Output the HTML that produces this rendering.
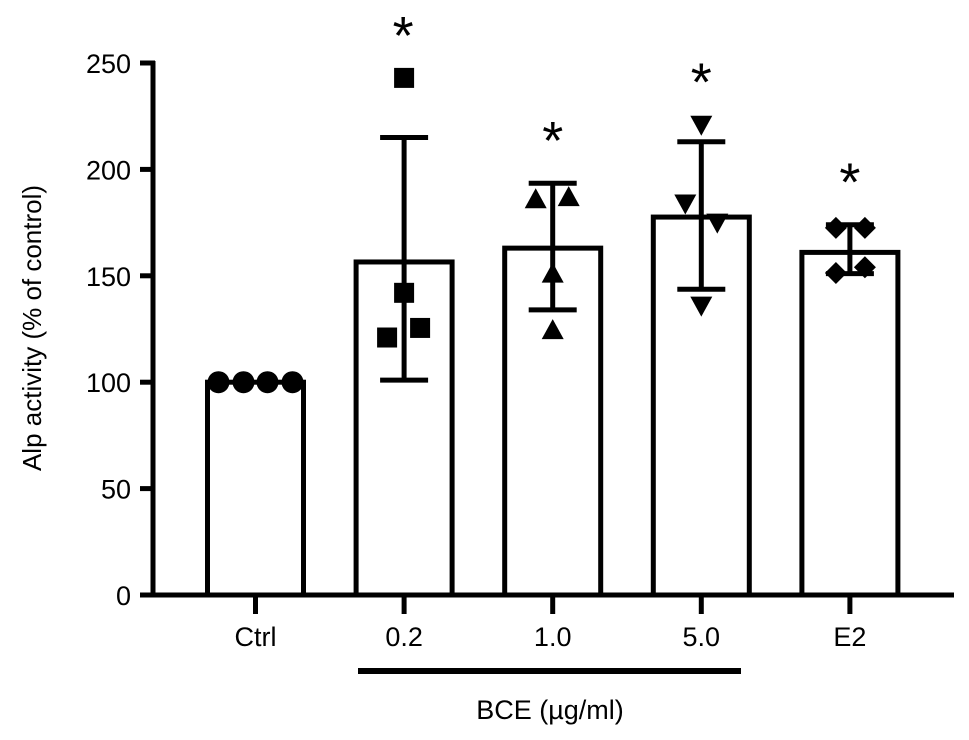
<!DOCTYPE html>
<html><head><meta charset="utf-8"><style>
body{margin:0;background:#fff;}
svg text{font-family:"Liberation Sans",Arial,sans-serif;fill:#000;}
</style></head><body>
<svg id="chart" width="969" height="735" viewBox="0 0 969 735" xmlns="http://www.w3.org/2000/svg"></svg>
<script>
const categories=["Ctrl","0.2","1.0","5.0","E2"];
const means=[100,156.5,163,177.6,161];
const errHigh=[100,215,193.5,213,174];
const errLow=[100,101,134,143.7,151];
const pointsCtrl=[100,100,100,100];
const points02=[243,142,121,125.5];
const points10=[186,187,151,124.5];
const points50=[221,184,175,136];
const pointsE2=[172.5,172.5,151.3,154];
const yTicks=[0,50,100,150,200,250];
const sig=[false,true,true,true,true];

const S="http://www.w3.org/2000/svg";
const svg=document.getElementById('chart');
function y(v){return 595-v*2.128;}
function x(i){return 255.5+i*148.6;}
function el(t,a,p){const e=document.createElementNS(S,t);for(const k in a)e.setAttribute(k,a[k]);(p||svg).appendChild(e);return e;}
const LW=5;
let ax=el('line',{x1:153,y1:y(250)-2,x2:153,y2:597,stroke:'#000','stroke-width':LW});


yTicks.forEach(v=>{
 let t=el('line',{x1:140,y1:y(v),x2:155,y2:y(v),stroke:'#000','stroke-width':LW});
 
 
 let l=el('text',{x:131,y:y(v)+10,'font-size':27,'text-anchor':'end'});l.textContent=v;
 
 
});
let yt=el('text',{x:0,y:0,'font-size':26,'text-anchor':'middle',transform:'translate(41,328) rotate(-90)'});
yt.textContent='Alp activity (% of control)';


const bw=96;
categories.forEach((c,i)=>{
 let r=el('rect',{x:x(i)-bw/2,y:y(means[i]),width:bw,height:y(0)-y(means[i]),fill:'#fff',stroke:'#000','stroke-width':LW});
 
 
});
let xa=el('line',{x1:142,y1:595,x2:954,y2:595,stroke:'#000','stroke-width':LW});


categories.forEach((c,i)=>{
 let t=el('line',{x1:x(i),y1:595,x2:x(i),y2:614,stroke:'#000','stroke-width':LW});
 
 
 let l=el('text',{x:x(i),y:646,'font-size':27,'text-anchor':'middle'});l.textContent=c;
 
 
});
categories.forEach((c,i)=>{
 if(errHigh[i]===errLow[i])return;
 let g=el('g',{stroke:'#000','stroke-width':LW});
 
 
 el('line',{x1:x(i),y1:y(errHigh[i]),x2:x(i),y2:y(errLow[i])},g);
 el('line',{x1:x(i)-24,y1:y(errHigh[i]),x2:x(i)+24,y2:y(errHigh[i])},g);
 el('line',{x1:x(i)-24,y1:y(errLow[i]),x2:x(i)+24,y2:y(errLow[i])},g);
});
const off4=[-37,-12,12,37];
pointsCtrl.forEach((v,k)=>{let p=el('circle',{cx:x(0)+off4[k],cy:y(v),r:11,fill:'#000'});
 });
const off02=[0,0,-17,16];
points02.forEach((v,k)=>{let p=el('rect',{x:x(1)+off02[k]-10,y:y(v)-10,width:20,height:20,fill:'#000'});
 });
const off10=[-17,16,0,0];
points10.forEach((v,k)=>{const cx=x(2)+off10[k],cy=y(v);
 let p=el('polygon',{points:`${cx-11},${cy+9} ${cx+11},${cy+9} ${cx},${cy-11}`,fill:'#000'});
 });
const off50=[0,-16,16,0];
points50.forEach((v,k)=>{const cx=x(3)+off50[k],cy=y(v);
 let p=el('polygon',{points:`${cx-11},${cy-9} ${cx+11},${cy-9} ${cx},${cy+11}`,fill:'#000'});
 });
const offE2=[-14,15,-14,15];
pointsE2.forEach((v,k)=>{const cx=x(4)+offE2[k],cy=y(v);
 let p=el('polygon',{points:`${cx-11},${cy} ${cx},${cy-11} ${cx+11},${cy} ${cx},${cy+11}`,fill:'#000'});
 });
categories.forEach((c,i)=>{
 if(!sig[i])return;
 const all=[[],points02,points10,points50,pointsE2][i];
 const top=Math.max(errHigh[i],...all);
 let a=el('text',{x:x(i)+(i==1?-1:0),y:y(top)-24,'font-size':54,'text-anchor':'middle'});a.textContent='*';
 
 
});
let gl=el('line',{x1:358,y1:671,x2:741,y2:671,stroke:'#000','stroke-width':6});


let gt=el('text',{x:550,y:719,'font-size':27,'text-anchor':'middle'});gt.textContent='BCE (µg/ml)';


</script>
</body></html>
